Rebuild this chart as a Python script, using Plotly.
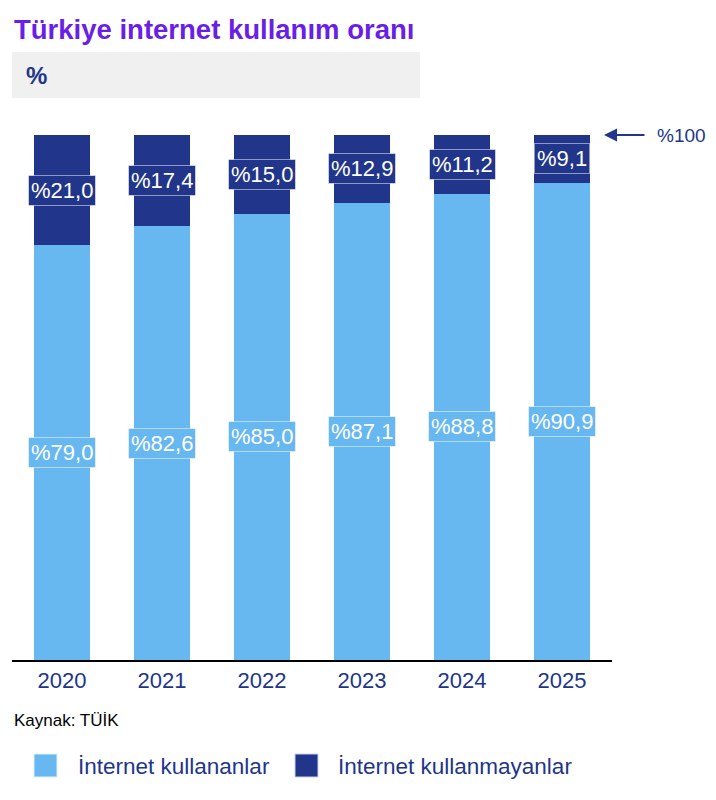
import plotly.graph_objects as go

years = ["2020", "2021", "2022", "2023", "2024", "2025"]
users = [79.0, 82.6, 85.0, 87.1, 88.8, 90.9]
non_users = [21.0, 17.4, 15.0, 12.9, 11.2, 9.1]
series_names = ["İnternet kullananlar", "İnternet kullanmayanlar"]

LIGHT = "#67b7f1"
DARK = "#21368a"
NAVY = "#21368a"
FONT = "Liberation Sans, Arial, sans-serif"

def fmt(v):
    return "%" + f"{v:.1f}".replace(".", ",")

fig = go.Figure()
fig.add_trace(go.Bar(x=years, y=users, name=series_names[0], marker=dict(color=LIGHT, line_width=0), width=0.56))
fig.add_trace(go.Bar(x=years, y=non_users, name=series_names[1], marker=dict(color=DARK, line_width=0), width=0.56))

annotations = []
for i, (u, n) in enumerate(zip(users, non_users)):
    annotations.append(dict(x=i, y=u / 2, xref="x", yref="y", text=fmt(u), showarrow=False,
                            font=dict(family=FONT, size=22, color="white"), bgcolor=LIGHT,
                            bordercolor="rgba(255,255,255,0.5)", borderwidth=1, borderpad=2))
    annotations.append(dict(x=i, y=u + n / 2, xref="x", yref="y", text=fmt(n), showarrow=False,
                            font=dict(family=FONT, size=22, color="white"), bgcolor=DARK,
                            bordercolor="rgba(255,255,255,0.5)", borderwidth=1, borderpad=2))

def py(p):
    return (660 - p) / 525

def px(p):
    return (p - 12) / 600

# title
annotations.append(dict(x=px(12), y=py(29), xref="paper", yref="paper", xanchor="left", yanchor="middle",
                        text="<b>Türkiye internet kullanım oranı</b>", showarrow=False,
                        font=dict(family=FONT, size=27.5, color="#6a1fe6")))
annotations.append(dict(x=px(24), y=py(76), xref="paper", yref="paper", xanchor="left", yanchor="middle",
                        text="<b>%</b>", showarrow=False, font=dict(family=FONT, size=24, color=NAVY)))
# arrow to 100
annotations.append(dict(x=px(604), y=100, xref="paper", yref="y", ax=42, ay=0, text="", showarrow=True,
                        arrowhead=2, arrowsize=1.3, arrowwidth=2, arrowcolor=NAVY))
annotations.append(dict(x=px(655), y=100, xref="paper", yref="y", xanchor="left", yanchor="middle",
                        text="%100", showarrow=False, font=dict(family=FONT, size=19, color=NAVY)))
# source
annotations.append(dict(x=0.0, y=py(720), xref="paper", yref="paper", xanchor="left", yanchor="middle",
                        text="Kaynak: TÜİK", showarrow=False, font=dict(family=FONT, size=17, color="black")))
# legend texts
annotations.append(dict(x=px(76), y=py(766), xref="paper", yref="paper", xanchor="left",
                        yanchor="middle", text=series_names[0], showarrow=False,
                        font=dict(family=FONT, size=22.5, color=NAVY)))
annotations.append(dict(x=px(336), y=py(766), xref="paper", yref="paper", xanchor="left",
                        yanchor="middle", text=series_names[1], showarrow=False,
                        font=dict(family=FONT, size=22.5, color=NAVY)))

shapes = [
    dict(type="rect", xref="paper", yref="paper", x0=0, x1=px(420),
         y0=py(98), y1=py(52), fillcolor="#f0f0f0", line_width=0, layer="below"),
    dict(type="rect", xref="paper", yref="paper", x0=px(34), x1=px(57),
         y0=py(777), y1=py(754), fillcolor=LIGHT, line=dict(color="#e0f0ff", width=1)),
    dict(type="rect", xref="paper", yref="paper", x0=px(295), x1=px(318),
         y0=py(777), y1=py(754), fillcolor=DARK, line=dict(color="#c8d0e8", width=1)),
]

fig.update_layout(
    width=708, height=792, barmode="stack", showlegend=False,
    margin=dict(l=4, r=104, t=127, b=140),
    paper_bgcolor="white", plot_bgcolor="white",
    xaxis=dict(type="category", range=[-0.5, 5.5], showline=True, linecolor="black", linewidth=2,
               ticks="", showgrid=False, tickfont=dict(family=FONT, size=22, color=NAVY), automargin=False),
    yaxis=dict(range=[0, 100], visible=False, showgrid=False),
    annotations=annotations, shapes=shapes,
)

fig.write_html("out.html")
